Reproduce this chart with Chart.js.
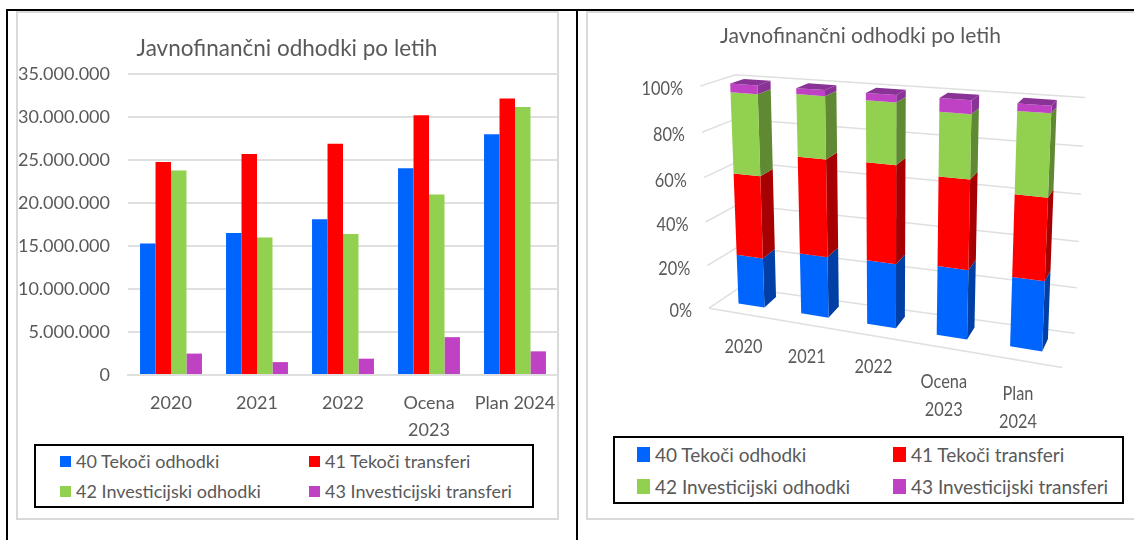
<!DOCTYPE html>
<html>
<head>
<meta charset="utf-8">
<script src="https://cdn.jsdelivr.net/npm/chart.js@4"></script>
<style>
  body { margin: 0; background: #fff; font-family: Lato, sans-serif; color: #595959; }
  .line { position: absolute; background: #000; }
  .panel { position: absolute; box-sizing: border-box; border: 2px solid #d9d9d9; }
  canvas { position: absolute; }
  .legend { position: absolute; box-sizing: border-box; border: 2px solid #000; background: #fff; display: grid; align-items: center; }
  .legend div { display: flex; align-items: center; white-space: nowrap; }
  .legend i { display: block; }
  #legend1 { left: 34px; top: 444px; width: 500px; height: 64px; grid-template-columns: 249px 1fr; padding: 0 0 0 24px; font-size: 18px; }
  #legend1 i { width: 11px; height: 11px; margin-right: 5px; }
  #legend2 { left: 613px; top: 436px; width: 511px; height: 68px; grid-template-columns: 256px 1fr; padding: 0 0 0 22px; font-size: 19px; }
  #legend2 i { width: 13px; height: 15px; margin-right: 5px; }
</style>
</head>
<body>
<div class="line" style="left:6px;top:9px;width:1128px;height:2px"></div>
<div class="line" style="left:6px;top:9px;width:2px;height:531px"></div>
<div class="line" style="left:576px;top:9px;width:2px;height:531px"></div>
<div class="panel" style="left:16px;top:11px;width:543px;height:509px"></div>
<div class="panel" style="left:586px;top:11px;width:560px;height:509px"></div>
<canvas id="barChart" width="542" height="508" style="left:16px;top:11px"></canvas>
<canvas id="stackChart" width="547" height="508" style="left:587px;top:11px"></canvas>
<div class="legend" id="legend1"></div>
<div class="legend" id="legend2"></div>
<script>
const titleText = "Javnofinančni odhodki po letih";
const categories1 = ["2020", "2021", "2022", ["Ocena", "2023"], "Plan 2024"];
const categories2 = ["2020", "2021", "2022", ["Ocena", "2023"], ["Plan", "2024"]];
const seriesNames = ["40 Tekoči odhodki", "41 Tekoči transferi", "42 Investicijski odhodki", "43 Investicijski transferi"];
const tekociOdhodki = [15280000, 16500000, 18100000, 24050000, 28000000];
const tekociTransferi = [24780000, 25700000, 26900000, 30200000, 32150000];
const investOdhodki = [23780000, 16000000, 16400000, 21000000, 31150000];
const investTransferi = [2490000, 1500000, 1900000, 4400000, 2750000];
const allSeries = [tekociOdhodki, tekociTransferi, investOdhodki, investTransferi];

const colors = ["#0064ff", "#ff0000", "#92d050", "#c042c4"];
const sideColors = ["#0040a6", "#a60000", "#5f8a33", "#8a3396"];
const gridColor = "#dfdfdf";
const textColor = "#595959";
const fontName = "Lato, sans-serif";

Chart.defaults.animation = false;
Chart.defaults.font.family = fontName;
Chart.defaults.color = textColor;

// legends sit in boxes of their own, two by two
["legend1", "legend2"].forEach(id => {
  document.getElementById(id).innerHTML = seriesNames.map((n, i) =>
    `<div><i style="background:${colors[i]}"></i>${n}</div>`).join("");
});

new Chart(document.getElementById("barChart"), {
  type: "bar",
  data: {
    labels: categories1,
    datasets: allSeries.map((s, i) => ({
      label: seriesNames[i], data: s, backgroundColor: colors[i],
      categoryPercentage: 0.72, barPercentage: 1
    }))
  },
  options: {
    responsive: false,
    layout: { padding: { bottom: 82 } },
    plugins: {
      legend: { display: false },
      tooltip: { enabled: false },
      title: {
        display: true, text: titleText, color: textColor,
        font: { size: 22.5, weight: "normal" },
        padding: { top: 24, bottom: 12 }
      }
    },
    scales: {
      x: {
        grid: { display: false },
        border: { color: gridColor, width: 2 },
        ticks: { font: { size: 18, lineHeight: 1.5 }, maxRotation: 0, autoSkip: false, padding: 7 },
        afterFit: s => { s.height = 62; s.paddingRight = 0; s.paddingLeft = 0; }
      },
      y: {
        min: 0, max: 35000000,
        grid: { color: gridColor, lineWidth: 2, drawTicks: false },
        border: { display: false },
        ticks: {
          stepSize: 5000000, font: { size: 18 }, padding: 18,
          callback: v => String(v).replace(/\B(?=(\d{3})+$)/g, ".")
        },
        afterFit: s => { s.width = 112; }
      }
    }
  }
});

// right chart: 100 % stacked, the shares come from the same series
const totals = categories2.map((c, i) => allSeries.reduce((sum, s) => sum + s[i], 0));
const shares = allSeries.map(s => s.map((v, i) => v / totals[i] * 100));

// corners of the perspective planes on the page: top left, top right, bottom right, bottom left
const frontPlane = [[711.7, 82.3], [1075.6, 107.4], [1064.7, 355], [720.9, 300.6]];
const backPlane = [[725.8, 77.8], [1080.2, 101.5], [1070, 342.3], [733.3, 290.3]];
const wallPlane = [[735.5, 74.7], [1085.3, 97.5], [1074.7, 333.3], [739.7, 287.5]];
const outerPlane = [[700.1, 86.1], [1073, 110], [1062.3, 367.4], [709, 308.2]];

function homography(q) {
  const [[x0, y0], [x1, y1], [x2, y2], [x3, y3]] = q;
  const sx = x0 - x1 + x2 - x3, sy = y0 - y1 + y2 - y3;
  const dx1 = x1 - x2, dx2 = x3 - x2, dy1 = y1 - y2, dy2 = y3 - y2;
  const den = dx1 * dy2 - dx2 * dy1;
  const g = (sx * dy2 - dx2 * sy) / den, h = (dx1 * sy - sx * dy1) / den;
  const a = x1 - x0 + g * x1, b = x3 - x0 + h * x3, d = y1 - y0 + g * y1, e = y3 - y0 + h * y3;
  return (u, v) => {
    const w = g * u + h * v + 1;
    return [(a * u + b * v + x0) / w, (d * u + e * v + y0) / w];
  };
}

const front = homography(frontPlane), back = homography(backPlane);
const wall = homography(wallPlane), outer = homography(outerPlane);

function poly(ctx, pts, fill) {
  ctx.beginPath();
  pts.forEach((p, i) => i ? ctx.lineTo(p[0], p[1]) : ctx.moveTo(p[0], p[1]));
  ctx.closePath();
  ctx.fillStyle = fill;
  ctx.fill();
}

function segment(ctx, pts, color) {
  ctx.beginPath();
  ctx.moveTo(pts[0][0], pts[0][1]);
  pts.slice(1).forEach(p => ctx.lineTo(p[0], p[1]));
  ctx.strokeStyle = color;
  ctx.lineWidth = 1.5;
  ctx.stroke();
}

// the reference text is a bit narrow, so squeeze it sideways
function narrowText(ctx, txt, x, y) {
  ctx.save();
  ctx.translate(x, y);
  ctx.scale(0.86, 1);
  ctx.fillStyle = textColor;
  ctx.fillText(txt, 0, 0);
  ctx.restore();
}

const perspective = {
  id: "perspective",
  beforeDatasetsDraw(chart) {
    const ctx = chart.ctx, area = chart.chartArea;
    const yScale = chart.scales.y, xScale = chart.scales.x;
    const un = px => (px - area.left) / area.width;
    const vn = py => (py - area.top) / area.height;
    const offX = chart.canvas.offsetLeft, offY = chart.canvas.offsetTop;

    ctx.save();
    ctx.translate(-offX, -offY);

    // back wall, left wall, floor edge and the value labels
    ctx.font = "19px " + fontName;
    ctx.textAlign = "right";
    ctx.textBaseline = "middle";
    yScale.ticks.forEach(t => {
      const v = vn(yScale.getPixelForValue(t.value));
      const a = outer(0, v), b = wall(0, v), c = wall(1, v);
      segment(ctx, [a, b, c], gridColor);
      narrowText(ctx, t.label, a[0] - 17, a[1] + 3);
    });
    segment(ctx, [outer(0, 1), outer(1, 1)], gridColor);

    // bars, lowest part first, so the tops stay on top
    chart.data.datasets.forEach((ds, i) => {
      chart.getDatasetMeta(i).data.forEach(bar => {
        const l = un(bar.x - bar.width / 2), r = un(bar.x + bar.width / 2);
        const t = vn(bar.y), b = vn(bar.base);
        poly(ctx, [front(r, t), back(r, t), back(r, b), front(r, b)], sideColors[i]);
        poly(ctx, [front(l, t), front(r, t), front(r, b), front(l, b)], colors[i]);
        if (i === chart.data.datasets.length - 1)
          poly(ctx, [front(l, t), front(r, t), back(r, t), back(l, t)], sideColors[i]);
      });
    });

    // category labels hang below the front foot of each bar
    ctx.textAlign = "center";
    chart.getDatasetMeta(0).data.forEach((bar, i) => {
      const foot = front(un(bar.x), 1);
      const label = categories2[i];
      const lines = Array.isArray(label) ? label : [label];
      lines.forEach((txt, k) => {
        narrowText(ctx, txt, foot[0] - 8, foot[1] + (lines.length > 1 ? 45 : 41) + k * 28);
      });
    });

    ctx.restore();
    return false;
  }
};

new Chart(document.getElementById("stackChart"), {
  type: "bar",
  data: {
    labels: categories2,
    datasets: shares.map((s, i) => ({
      label: seriesNames[i], data: s, backgroundColor: colors[i],
      categoryPercentage: 0.42, barPercentage: 1
    }))
  },
  plugins: [perspective],
  options: {
    responsive: false,
    layout: { padding: { left: 10, right: 10, bottom: 10 } },
    plugins: {
      legend: { display: false },
      tooltip: { enabled: false },
      title: {
        display: true, text: titleText, color: textColor,
        font: { size: 21, weight: "normal" },
        padding: { top: 12.5, bottom: 10 }
      }
    },
    scales: {
      x: { display: false, stacked: true },
      y: { display: false, stacked: true, min: 0, max: 100, ticks: { stepSize: 20, callback: v => v + "%" } }
    }
  }
});
</script>
</body>
</html>
